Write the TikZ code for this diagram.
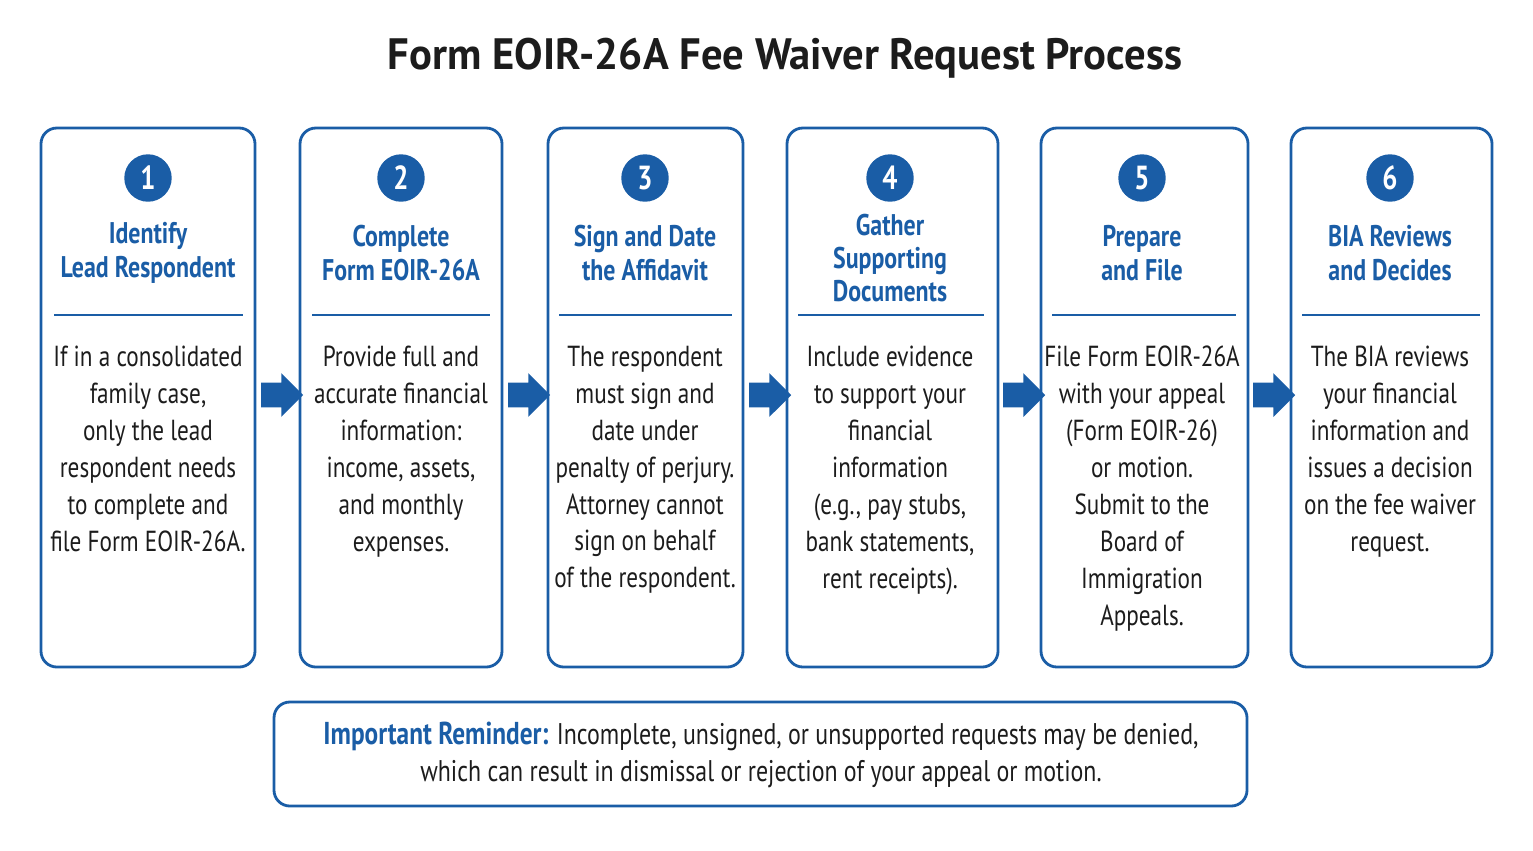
\documentclass[tikz,border=0pt]{standalone}
\usepackage{fontspec}
\setmainfont{PT Sans}[FakeStretch=0.8]
\newfontfamily\titlefont{PT Sans}[FakeStretch=0.97]
\usepackage{tikz}
\usetikzlibrary{shapes.arrows,positioning}
\definecolor{formblue}{HTML}{1A5DA6}
\definecolor{titleink}{HTML}{1C1C1C}

\begin{document}
\begin{tikzpicture}[x=0.02cm,y=-0.02cm,
    stepbox/.style={draw=formblue,line width=1.6pt,rounded corners=9pt},
    stepnum/.style={circle,fill=formblue,text=white,minimum size=27pt,inner sep=0pt,
        font=\fontsize{19}{19}\selectfont\bfseries},
    heading/.style={text=formblue,align=center,font=\fontsize{17}{19}\selectfont\bfseries},
    body/.style={anchor=north,align=center,text=titleink,font=\fontsize{16.5}{21}\selectfont},
    rule/.style={draw=formblue,line width=1.3pt},
    flow/.style={single arrow,fill=formblue,minimum width=25pt,minimum height=24pt,
        single arrow head extend=4.5pt,inner sep=5.5pt}
  ]
  \useasboundingbox (0,0) rectangle (1533,850);

  % 表題
  \node[text=titleink,font=\fontsize{25}{25}\selectfont\titlefont\bfseries] (title) at (785,58)
    {Form EOIR-26A Fee Waiver Request Process};

  % 枠
  \draw[stepbox] (41,128) rectangle (255,667);
  \draw[stepbox] (300,128) rectangle (502,667);
  \draw[stepbox] (548,128) rectangle (743,667);
  \draw[stepbox] (787,128) rectangle (998,667);
  \draw[stepbox] (1041,128) rectangle (1248,667);
  \draw[stepbox] (1291,128) rectangle (1492,667);

  % 番号
  \node[stepnum] (n1) at (148,178) {1};
  \node[stepnum] (n2) at (401,178) {2};
  \node[stepnum] (n3) at (645,178) {3};
  \node[stepnum] (n4) at (890,178) {4};
  \node[stepnum] (n5) at (1142,178) {5};
  \node[stepnum] (n6) at (1390,178) {6};

  % 見出し
  \node[heading] (h1) at (148,253) {Identify\\Lead Respondent};
  \node[heading] (h2) at (401,253) {Complete\\Form EOIR-26A};
  \node[heading] (h3) at (645,253) {Sign and Date\\the Affidavit};
  \node[heading] (h4) at (890,258) {Gather\\Supporting\\Documents};
  \node[heading] (h5) at (1142,253) {Prepare\\and File};
  \node[heading] (h6) at (1390,253) {BIA Reviews\\and Decides};

  % 区切り線
  \draw[rule] (54,315) -- (243,315);
  \draw[rule] (312,315) -- (490,315);
  \draw[rule] (559,315) -- (732,315);
  \draw[rule] (798,315) -- (984,315);
  \draw[rule] (1052,315) -- (1236,315);
  \draw[rule] (1302,315) -- (1480,315);

  % 本文
  \node[body] (b1) at (148,340) {If in a consolidated\\family case,\\only the lead\\respondent needs\\to complete and\\file Form EOIR-26A.};
  \node[body] (b2) at (401,340) {Provide full and\\accurate financial\\information:\\income, assets,\\and monthly\\expenses.};
  \node[body] (b3) at (645,340) {The respondent\\must sign and\\date under\\penalty of perjury.\\Attorney cannot\\sign on behalf\\of the respondent.};
  \node[body] (b4) at (890,340) {Include evidence\\to support your\\financial\\information\\(e.g., pay stubs,\\bank statements,\\rent receipts).};
  \node[body] (b5) at (1142,340) {File Form EOIR-26A\\with your appeal\\(Form EOIR-26)\\or motion.\\Submit to the\\Board of\\Immigration\\Appeals.};
  \node[body] (b6) at (1390,340) {The BIA reviews\\your financial\\information and\\issues a decision\\on the fee waiver\\request.};

  % 矢印
  \node[flow] (a1) at (276,395) {};
  \node[flow] (a2) at (523,395) {};
  \node[flow] (a3) at (764,395) {};
  \node[flow] (a4) at (1018,395) {};
  \node[flow] (a5) at (1268,395) {};

  % 注意
  \draw[stepbox] (274,702) rectangle (1247,806);
  \node[align=center,text=titleink,font=\fontsize{17}{21.5}\selectfont] (note) at (761,755)
    {{\color{formblue}\fontsize{18}{21.5}\selectfont\bfseries Important Reminder:} Incomplete, unsigned, or unsupported requests may be denied,\\which can result in dismissal or rejection of your appeal or motion.};
\end{tikzpicture}
\end{document}
